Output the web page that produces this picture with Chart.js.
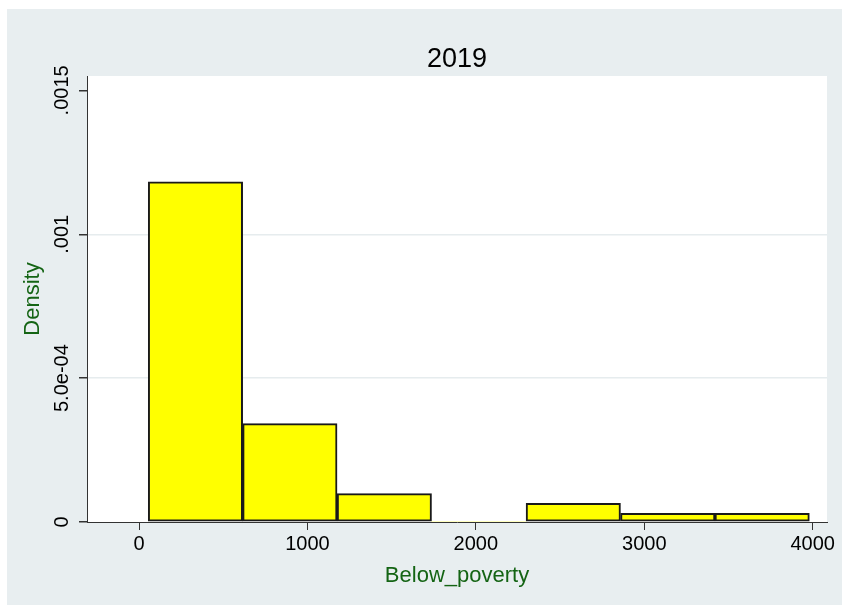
<!DOCTYPE html>
<html>
<head>
<meta charset="utf-8">
<title>2019</title>
<script src="https://cdn.jsdelivr.net/npm/chart.js@4.4.1/dist/chart.umd.min.js"></script>
<style>
  html, body { margin: 0; padding: 0; background: #fff; }
  #fondo { position: absolute; left: 7px; top: 9px; width: 835px; height: 596px; background: #e8eef0; }
  canvas { display: block; }
</style>
</head>
<body>
<div id="fondo"><canvas id="grafico" width="835" height="596"></canvas></div>
<script>
// --- dados ---
const titulo = '2019';
const limitesBins = [55, 615, 1176, 1737, 2298, 2859, 3420, 3980];
const densidades = [0.001182, 0.000342, 0.0000985, 0, 0.000065, 0.0000302, 0.0000302];
const ticksX = [0, 1000, 2000, 3000, 4000];
const ticksY = [0, 0.0005, 0.001, 0.0015];
const rotulosY = ['0', '5.0e-04', '.001', '.0015'];
const tituloX = 'Below_poverty';
const tituloY = 'Density';

const FONTE = '"Liberation Sans", Arial, Helvetica, sans-serif';
const VERDE = '#146414';
const EIXO = '#333333';
const GRADE = '#e6ecee';

// ponto central de cada bin
const pontos = densidades.map((d, i) => ({
    x: (limitesBins[i] + limitesBins[i + 1]) / 2,
    y: d
}));

// pinta a área do gráfico de branco
const fundoBranco = {
    id: 'fundoBranco',
    beforeDraw(chart) {
        const a = chart.chartArea;
        const ctx = chart.ctx;
        ctx.save();
        ctx.fillStyle = '#ffffff';
        ctx.fillRect(a.left, a.top, a.right - a.left, a.bottom - a.top);
        ctx.restore();
    }
};

new Chart(document.getElementById('grafico').getContext('2d'), {
    type: 'bar',
    data: {
        datasets: [{
            data: pontos,
            backgroundColor: '#ffff00',
            borderColor: '#1a1a1a',
            borderWidth: (c) => (c.raw && c.raw.y > 0 ? 2 : 0),
            borderSkipped: false,
            barPercentage: 1,
            categoryPercentage: 1
        }]
    },
    options: {
        responsive: false,
        animation: false,
        layout: { padding: { left: 0, top: 0, right: 15, bottom: 0 } },
        plugins: {
            legend: { display: false },
            tooltip: { enabled: false },
            title: {
                display: true,
                text: titulo,
                fullSize: false,
                color: '#000',
                font: { family: FONTE, size: 27, weight: 'normal', lineHeight: 1 },
                padding: { top: 37.5, bottom: 2.5 }
            }
        },
        scales: {
            x: {
                type: 'linear',
                min: -309,
                max: 4085,
                offset: false,
                afterBuildTicks: (s) => { s.ticks = ticksX.map(v => ({ value: v })); },
                afterFit: (s) => { s.height = 83; },
                ticks: {
                    color: '#000',
                    padding: 2.5,
                    font: { family: FONTE, size: 20 },
                    callback: (v) => String(v),
                    maxRotation: 0
                },
                grid: {
                    offset: false,
                    drawOnChartArea: false,
                    drawTicks: true,
                    tickLength: 8,
                    tickColor: EIXO
                },
                border: { display: true, color: EIXO, width: 1 },
                title: {
                    display: true,
                    text: tituloX,
                    color: VERDE,
                    font: { family: FONTE, size: 22, lineHeight: 1 },
                    padding: { top: 0, bottom: 18 }
                }
            },
            y: {
                type: 'linear',
                min: 0,
                max: 0.00155,
                afterBuildTicks: (s) => { s.ticks = ticksY.map(v => ({ value: v })); },
                afterFit: (s) => { s.width = 80; },
                ticks: {
                    color: '#000',
                    minRotation: 90,
                    maxRotation: 90,
                    crossAlign: 'center',
                    padding: -17.4,
                    font: { family: FONTE, size: 20 },
                    callback: (v) => {
                        const i = ticksY.indexOf(v);
                        return i >= 0 ? rotulosY[i] : '';
                    }
                },
                grid: {
                    color: (c) => (c.tick && c.tick.value > ticksY[0] && c.tick.value < ticksY[ticksY.length - 1]) ? GRADE : 'rgba(0,0,0,0)',
                    lineWidth: 1.5,
                    tickLength: 8,
                    tickColor: EIXO
                },
                border: { display: true, color: EIXO, width: 1 },
                title: {
                    display: true,
                    text: tituloY,
                    color: VERDE,
                    font: { family: FONTE, size: 22, lineHeight: 1 },
                    padding: { top: 15, bottom: 0 }
                }
            }
        }
    },
    plugins: [fundoBranco]
});
</script>
</body>
</html>
